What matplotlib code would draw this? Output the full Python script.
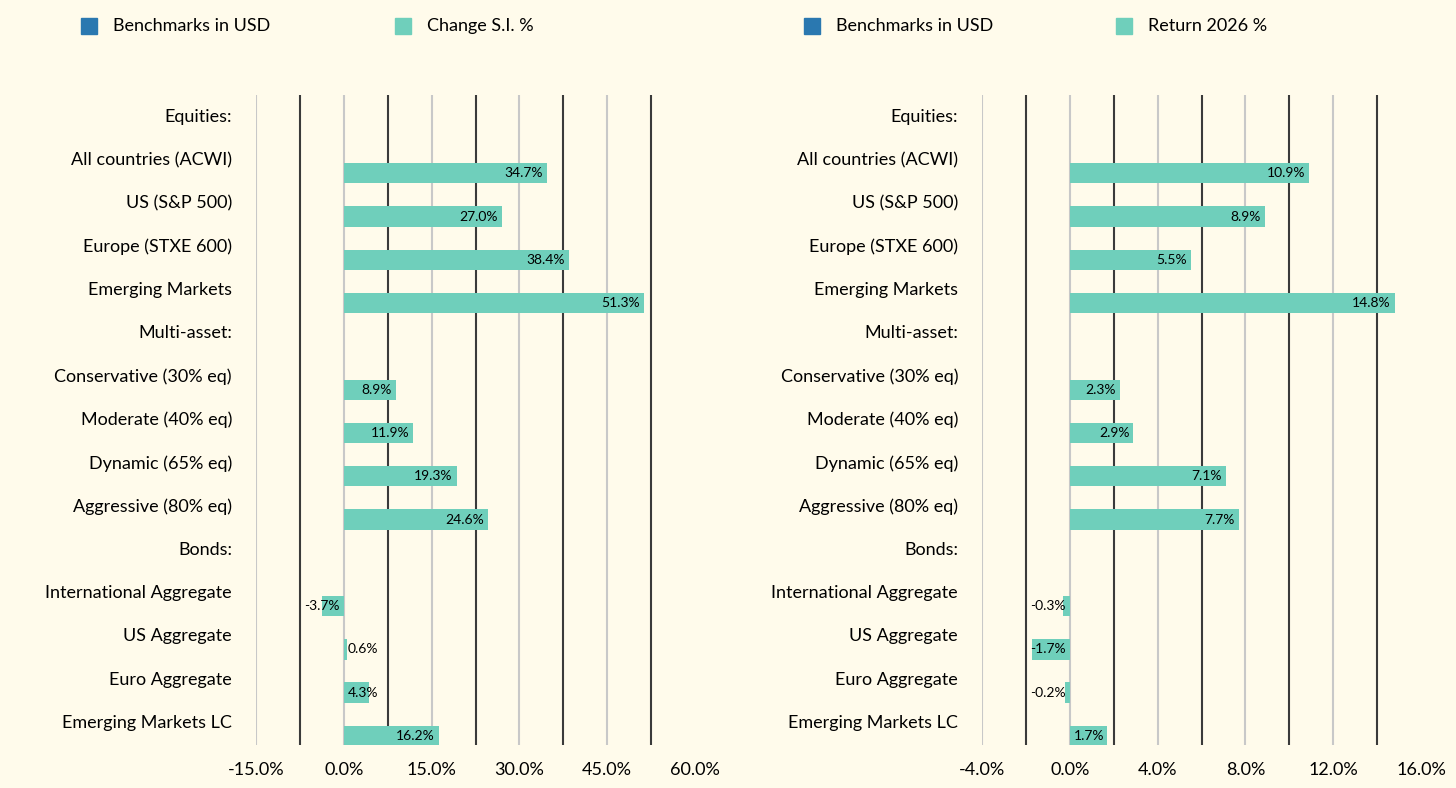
import matplotlib.pyplot as plt
from matplotlib.patches import Rectangle

categories = ["Equities:", "All countries (ACWI)", "US (S&P 500)", "Europe (STXE 600)", "Emerging Markets",
              "Multi-asset:", "Conservative (30% eq)", "Moderate (40% eq)", "Dynamic (65% eq)", "Aggressive (80% eq)",
              "Bonds:", "International Aggregate", "US Aggregate", "Euro Aggregate", "Emerging Markets LC"]
change_si = [None, 34.7, 27.0, 38.4, 51.3, None, 8.9, 11.9, 19.3, 24.6, None, -3.7, 0.6, 4.3, 16.2]
return_2026 = [None, 10.9, 8.9, 5.5, 14.8, None, 2.3, 2.9, 7.1, 7.7, None, -0.3, -1.7, -0.2, 1.7]
left_ticks = [-15, 0, 15, 30, 45, 60]
right_ticks = [-4, 0, 4, 8, 12, 16]

BG = "#fffbeb"
TEAL = "#6fcfbb"
BLUE = "#2a78b0"
fig = plt.figure(figsize=(14.56, 7.88), dpi=100, facecolor=BG)
plt.rcParams['font.family'] = ['Lato', 'DejaVu Sans']

def panel(left, width, vals, ticks, legend2, leg_x):
    ax = fig.add_axes([left / 1456, 1 - 745 / 788, width / 1456, 650 / 788])
    ax.set_facecolor(BG)
    lo, hi = ticks[0], ticks[-1]
    step = ticks[1] - ticks[0]
    ax.set_xlim(lo, hi)
    ax.set_ylim(14.21, -0.81)
    pxu = width / (hi - lo)
    for t in ticks[:-1]:
        ax.axvline(t, color="#c8c8c8", lw=1.5, zorder=0)
        ax.axvline(t + step / 2, color="#3a3a3a", lw=1.5, zorder=0)
    n = len(categories)
    for i, (c, v) in enumerate(zip(categories, vals)):
        ax.text(-24 / pxu + lo, i - 0.3, c, ha="right", va="center", fontsize=13, clip_on=False)
        if v is None:
            continue
        ax.barh(i, v, height=0.47, color=TEAL, zorder=2)
        lbl = f"{v:.1f}%"
        if v < 0:
            ax.text(-4 / pxu, i, lbl, ha="right", va="center", fontsize=10, zorder=3)
        elif v * pxu > 42:
            ax.text(v - 4 / pxu, i, lbl, ha="right", va="center", fontsize=10, zorder=3)
        else:
            ax.text(4 / pxu, i, lbl, ha="left", va="center", fontsize=10, zorder=3)
    ax.set_xticks(ticks)
    ax.set_xticklabels([f"{t:.1f}%" for t in ticks], fontsize=13)
    ax.tick_params(axis="x", length=0, pad=12)
    ax.set_yticks([])
    for s in ax.spines.values():
        s.set_visible(False)
    # legend
    y = 1 - 26 / 788
    for x, col, txt in [(leg_x[0], BLUE, "Benchmarks in USD"), (leg_x[1], TEAL, legend2)]:
        fig.patches.append(Rectangle(((x - 9) / 1456, y - 8 / 788), 16 / 1456, 16 / 788,
                                     transform=fig.transFigure, color=col))
        fig.text((x + 23) / 1456, y, txt, ha="left", va="center", fontsize=13)

panel(256, 439, change_si, left_ticks, "Change S.I. %", (90, 404))
panel(982, 439, return_2026, right_ticks, "Return 2026 %", (813, 1125))
fig.savefig("out.png", dpi=100, facecolor=BG)
